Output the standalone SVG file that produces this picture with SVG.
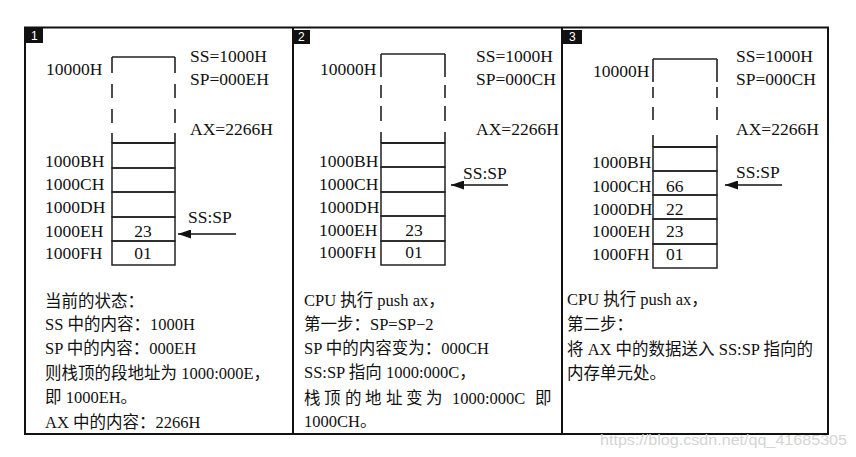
<svg xmlns="http://www.w3.org/2000/svg" width="856" height="457" viewBox="0 0 856 457">
<defs>
<style>
text{font-family:"Liberation Serif","Noto Sans CJK SC",serif;fill:#111;}
.lb{font-size:17.5px;}
.tx{font-size:16.5px;}
.num{font-size:12px;fill:#fff;font-family:"Liberation Sans",sans-serif;}
.frame{fill:none;stroke:#111;stroke-width:2;}
.cell{fill:none;stroke:#222;stroke-width:1.5;}
.side{fill:none;stroke:#222;stroke-width:1.6;}
.arrow{stroke:#111;stroke-width:1.6;fill:none;}
.wm{font-family:"Liberation Sans",sans-serif;font-size:15px;fill:#d4d4d4;}
</style>
<marker id="ah" viewBox="0 0 13 9" refX="13" refY="4.5" markerWidth="13" markerHeight="9" markerUnits="userSpaceOnUse" orient="auto">
<path d="M0,0 L13,4.5 L0,9 Z" fill="#111"/>
</marker>
</defs>

<g id="frame">
<rect class="frame" x="25" y="27.5" width="803" height="406.5"/>
<line class="frame" x1="293" y1="27.5" x2="293" y2="434"/>
<line class="frame" x1="562" y1="27.5" x2="562" y2="434"/>
</g>

<g id="panel1">
<rect x="25" y="28" width="18" height="15" fill="#111"/>
<text class="num" x="31" y="40">1</text>
<text class="lb" x="46" y="75">10000H</text>
<text class="lb" x="190" y="62">SS=1000H</text>
<text class="lb" x="190" y="85">SP=000EH</text>
<text class="lb" x="190" y="135">AX=2266H</text>
<line class="side" x1="112" y1="57" x2="175" y2="57"/>
<line class="side" x1="112" y1="57" x2="112" y2="143" stroke-dasharray="16 11 14 11 14 10 20"/>
<line class="side" x1="175" y1="57" x2="175" y2="143" stroke-dasharray="16 11 14 11 14 10 20"/>
<rect class="cell" x="112" y="143" width="63" height="25"/>
<rect class="cell" x="112" y="168" width="63" height="24"/>
<rect class="cell" x="112" y="192" width="63" height="25"/>
<rect class="cell" x="112" y="217" width="63" height="24"/>
<rect class="cell" x="112" y="241" width="63" height="24"/>
<line x1="112" y1="143" x2="175" y2="143" stroke="#222" stroke-width="2.2"/>
<text class="lb" x="45" y="167">1000BH</text>
<text class="lb" x="45" y="190">1000CH</text>
<text class="lb" x="45" y="213">1000DH</text>
<text class="lb" x="45" y="237">1000EH</text>
<text class="lb" x="45" y="259">1000FH</text>
<text class="lb" x="143" y="237" text-anchor="middle">23</text>
<text class="lb" x="143" y="259" text-anchor="middle">01</text>
<text class="lb" x="188" y="223">SS:SP</text>
<text class="tx" x="45" y="307">当前的状态：</text>
<text class="tx" x="45" y="330">SS 中的内容：1000H</text>
<text class="tx" x="45" y="354">SP 中的内容：000EH</text>
<text class="tx" x="45" y="379">则栈顶的段地址为 1000:000E，</text>
<text class="tx" x="45" y="403">即 1000EH。</text>
<text class="tx" x="45" y="428">AX 中的内容：2266H</text>
</g>

<g id="panel2">
<rect x="293" y="30" width="17" height="14" fill="#111"/>
<text class="num" x="298" y="41">2</text>
<text class="lb" x="320" y="75">10000H</text>
<text class="lb" x="476" y="62">SS=1000H</text>
<text class="lb" x="476" y="85">SP=000CH</text>
<text class="lb" x="476" y="135">AX=2266H</text>
<line class="side" x1="381" y1="54" x2="445" y2="54"/>
<line class="side" x1="381" y1="54" x2="381" y2="143" stroke-dasharray="23 8 13 8 15 11 20"/>
<line class="side" x1="445" y1="54" x2="445" y2="143" stroke-dasharray="23 8 13 8 15 11 20"/>
<rect class="cell" x="381" y="143" width="64" height="24"/>
<rect class="cell" x="381" y="167" width="64" height="25"/>
<rect class="cell" x="381" y="192" width="64" height="24"/>
<rect class="cell" x="381" y="216" width="64" height="25"/>
<rect class="cell" x="381" y="241" width="64" height="24"/>
<line x1="381" y1="143" x2="445" y2="143" stroke="#222" stroke-width="2.2"/>
<text class="lb" x="319" y="167">1000BH</text>
<text class="lb" x="319" y="190">1000CH</text>
<text class="lb" x="319" y="213">1000DH</text>
<text class="lb" x="319" y="236">1000EH</text>
<text class="lb" x="319" y="258">1000FH</text>
<text class="lb" x="414" y="236" text-anchor="middle">23</text>
<text class="lb" x="414" y="258" text-anchor="middle">01</text>
<text class="lb" x="463" y="179">SS:SP</text>
<text class="tx" x="304" y="306">CPU 执行  push ax，</text>
<text class="tx" x="304" y="330">第一步：SP=SP−2</text>
<text class="tx" x="304" y="354">SP 中的内容变为：000CH</text>
<text class="tx" x="304" y="378">SS:SP 指向 1000:000C，</text>
<text class="tx" y="404"><tspan x="304">栈</tspan><tspan x="324">顶</tspan><tspan x="345">的</tspan><tspan x="365">地</tspan><tspan x="386">址</tspan><tspan x="406">变</tspan><tspan x="426">为</tspan><tspan x="452">1000:000C</tspan><tspan x="535">即</tspan></text>
<text class="tx" x="304" y="427">1000CH。</text>
</g>

<g id="panel3">
<rect x="563" y="30" width="19" height="14" fill="#111"/>
<text class="num" x="569" y="41">3</text>
<text class="lb" x="593" y="77">10000H</text>
<text class="lb" x="736" y="62">SS=1000H</text>
<text class="lb" x="736" y="85">SP=000CH</text>
<text class="lb" x="736" y="135">AX=2266H</text>
<line class="side" x1="653" y1="59" x2="717" y2="59"/>
<line class="side" x1="653" y1="59" x2="653" y2="147" stroke-dasharray="23 5 11 9 13 15 20"/>
<line class="side" x1="717" y1="59" x2="717" y2="147" stroke-dasharray="23 5 11 9 13 15 20"/>
<rect class="cell" x="653" y="147" width="64" height="24"/>
<rect class="cell" x="653" y="171" width="64" height="24"/>
<rect class="cell" x="653" y="195" width="64" height="24"/>
<rect class="cell" x="653" y="219" width="64" height="25"/>
<rect class="cell" x="653" y="244" width="64" height="24"/>
<line x1="653" y1="147" x2="717" y2="147" stroke="#222" stroke-width="2.2"/>
<text class="lb" x="592" y="168">1000BH</text>
<text class="lb" x="592" y="192">1000CH</text>
<text class="lb" x="592" y="215">1000DH</text>
<text class="lb" x="592" y="237">1000EH</text>
<text class="lb" x="592" y="260">1000FH</text>
<text class="lb" x="666" y="192">66</text>
<text class="lb" x="666" y="215">22</text>
<text class="lb" x="666" y="237">23</text>
<text class="lb" x="666" y="260">01</text>
<text class="lb" x="736" y="178">SS:SP</text>
<text class="tx" x="567" y="305">CPU 执行  push ax，</text>
<text class="tx" x="567" y="330">第二步：</text>
<text class="tx" x="567" y="355">将 AX 中的数据送入 SS:SP 指向的</text>
<text class="tx" x="567" y="379">内存单元处。</text>
</g>

<g id="connectors">
<line class="arrow" x1="236" y1="234" x2="178" y2="234" marker-end="url(#ah)"/>
<line class="arrow" x1="508" y1="185" x2="451" y2="185" marker-end="url(#ah)"/>
<line class="arrow" x1="782" y1="185" x2="725" y2="185" marker-end="url(#ah)"/>
</g>

<text class="wm" x="600" y="445" textLength="247" lengthAdjust="spacingAndGlyphs">https://blog.csdn.net/qq_41685305</text>
</svg>
